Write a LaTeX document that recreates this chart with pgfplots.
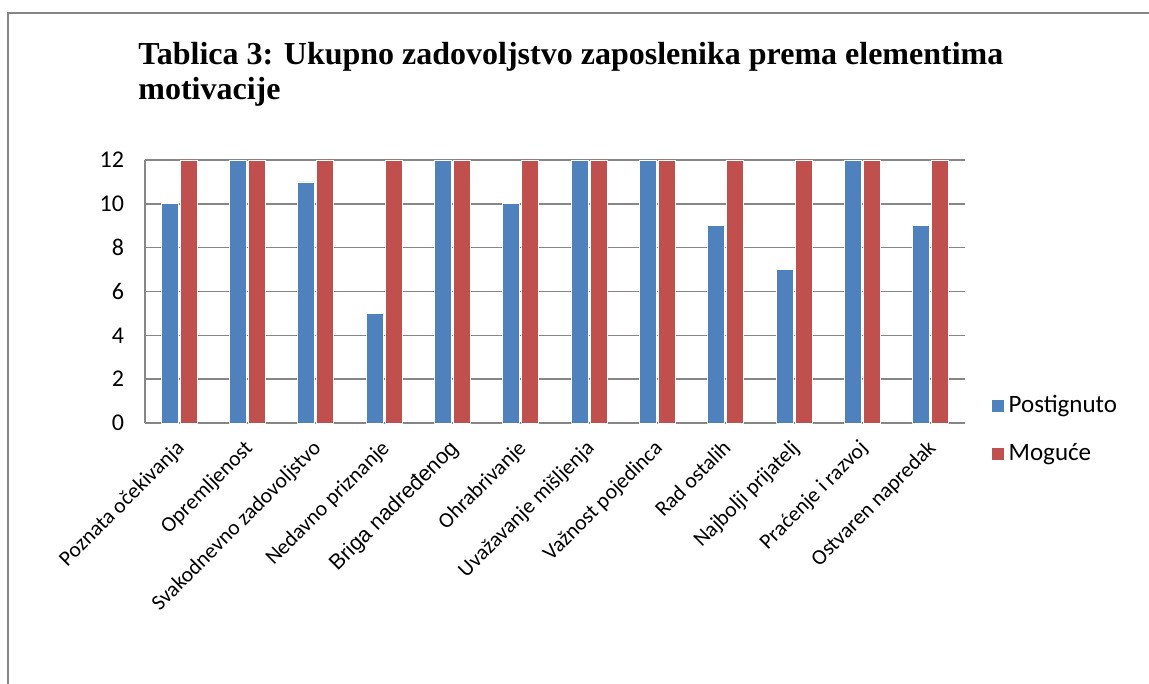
\documentclass[border=0pt]{standalone}
\usepackage{pgfplots}
\pgfplotsset{compat=1.18}
\usepackage{fontspec}
\setmainfont{Carlito}
\newfontfamily\titlefont{Liberation Serif}
\newfontfamily\arialf{Liberation Sans}
\definecolor{cblue}{HTML}{4F81BD}
\definecolor{cred}{HTML}{C0504D}
\definecolor{gridc}{HTML}{868686}
\begin{document}
\begin{tikzpicture}
\path[use as bounding box] (-72.5pt,-130.5pt) rectangle (502pt,211.5pt);
\draw[gridc, line width=1pt] (-68.5pt,-135pt) -- (-68.5pt,205pt) -- (505pt,205pt);
\begin{axis}[
  at={(0,0)}, anchor=south west,
  scale only axis, width=410pt, height=131.5pt,
  ybar, bar width=8.5pt,
  xmin=-0.5, xmax=11.5, ymin=0, ymax=12,
  ytick={0,2,...,12},
  xtick={0,...,11},
  xticklabels={Poznata očekivanja, Opremljenost, Svakodnevno zadovoljstvo, Nedavno priznanje, {\arialf Briga nadređenog}, Ohrabrivanje, Uvažavanje mišljenja, Važnost pojedinca, Rad ostalih, Najbolji prijatelj, Praćenje i razvoj, Ostvaren napredak},
  x tick label style={rotate=45, anchor=north east, font=\fontsize{10.8}{12}\selectfont, inner sep=1pt, xshift=-6pt, yshift=-2.8pt},
  y tick label style={font=\fontsize{12}{14}\selectfont, xshift=-7pt},
  /pgf/number format/assume math mode=true,
  axis x line=bottom, axis y line=left,
  axis line style={gridc, line width=0.8pt, -},
  major tick length=0pt,
  ymajorgrids, grid style={gridc, line width=0.8pt},
  legend style={at={(1.024,-0.025)}, anchor=west, draw=none, fill=none,
    font=\fontsize{12.5}{15}\selectfont, row sep=10pt,
    legend cell align=left},
  legend image code/.code={\fill[#1] (0pt,-3.2pt) rectangle (6.4pt,3.2pt);},
]
\addplot[fill=cblue, draw=white, line width=0.4pt, bar shift=-4.75pt] coordinates {
(0,10) (1,12) (2,11) (3,5) (4,12) (5,10) (6,12) (7,12) (8,9) (9,7) (10,12) (11,9)};
\addplot[fill=cred, draw=white, line width=0.4pt, bar shift=4.75pt] coordinates {
(0,12) (1,12) (2,12) (3,12) (4,12) (5,12) (6,12) (7,12) (8,12) (9,12) (10,12) (11,12)};
\legend{Postignuto, Moguće}
\end{axis}
\node[anchor=base west, align=left, inner sep=0pt, font=\titlefont\bfseries\fontsize{16}{17.5}\selectfont] at (-3.5pt,161.5pt) {Tablica 3: Ukupno zadovoljstvo zaposlenika prema elementima\\motivacije};
\end{tikzpicture}
\end{document}
